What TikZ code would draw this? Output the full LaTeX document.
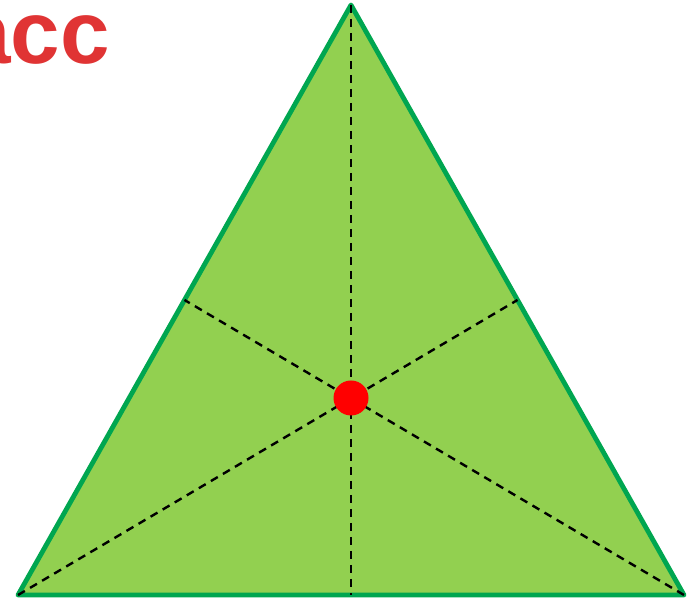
\documentclass[tikz,border=0pt]{standalone}
\usepackage{fontspec}
\setmainfont{Liberation Sans}
\usetikzlibrary{calc}
\definecolor{trifill}{RGB}{146,208,80}
\definecolor{triedge}{RGB}{0,166,80}
\definecolor{labelred}{RGB}{224,52,52}
\tikzset{
  tri/.style={fill=trifill,draw=triedge,line width=4.8pt,line join=round},
  median/.style={draw=black,line width=2.4pt,dash pattern=on 8pt off 6pt},
  centre/.style={circle,fill=red,minimum size=35pt,inner sep=0pt},
  lbl/.style={text=labelred,font=\bfseries\fontsize{89}{89}\selectfont,inner sep=0pt,anchor=base west}
}
\begin{document}
\begin{tikzpicture}[x=1pt,y=1pt]
\useasboundingbox (0,0) rectangle (700,601);
\clip (0,0) rectangle (700,601);
\coordinate (A) at (351,596);
\coordinate (B) at (18,6);
\coordinate (C) at (684,6);
\coordinate (mBC) at ($(B)!0.5!(C)$);
\coordinate (mAB) at ($(A)!0.5!(B)$);
\coordinate (mAC) at ($(A)!0.5!(C)$);
\draw[tri] (A) -- (B) -- (C) -- cycle;
\draw[median] (A) -- (mBC);
\draw[median] (B) -- (mAC);
\draw[median] (C) -- (mAB);
\node[centre] (G) at (351,203) {};
\node[lbl] (t) at (-39,537) {acc};
\end{tikzpicture}
\end{document}
